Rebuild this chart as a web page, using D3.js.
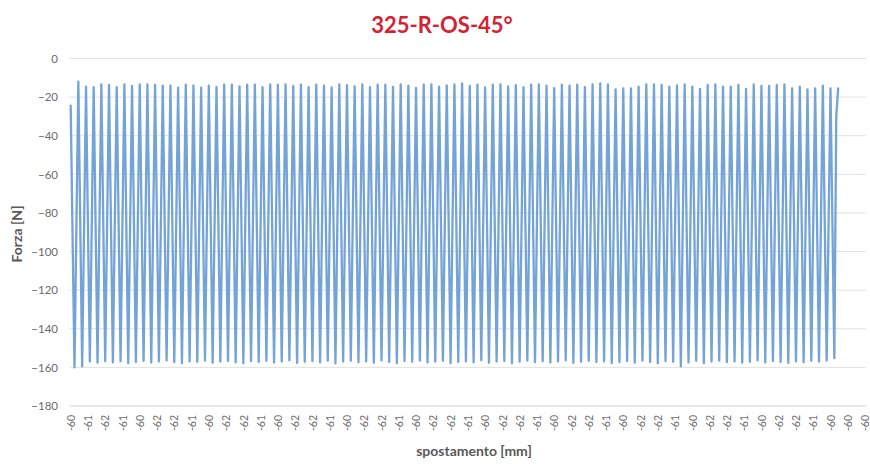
<!DOCTYPE html>
<html>
<head>
<meta charset="utf-8">
<script src="https://cdn.jsdelivr.net/npm/d3@7/dist/d3.min.js"></script>
<style>
  html, body { margin: 0; padding: 0; background: #ffffff; }
  svg { display: block; font-family: Lato, "Open Sans", "Liberation Sans", sans-serif; }
</style>
</head>
<body>
<svg id="chart" width="870" height="464"></svg>
<script>
// Cyclic test: force [N] against displacement [mm], one sample per category.
const chartTitle = "325-R-OS-45°";

// Number of categories on the displacement axis (recorded rows).
const categoryCount = 415;

// Displacement labels shown every 9th category.
const xLabels = [
  "-60","-61","-62","-61","-60","-62","-62","-61","-60","-62",
  "-62","-61","-60","-62","-62","-61","-60","-62","-62","-61",
  "-60","-62","-62","-61","-60","-62","-62","-61","-60","-62",
  "-62","-61","-60","-62","-62","-61","-60","-62","-62","-61",
  "-60","-62","-62","-61","-60","-60","-60"
];
const labelStep = 9;

// Force at the start of the record.
const startForce = -24;

// Force at each cycle's unloaded peak (every 4th sample, starting at sample 4).
const peakForce = [
  -12.0, -14.6, -14.9, -13.4, -13.7, -14.9, -13.4, -14.2, -13.4, -13.4,
  -13.7, -14.0, -14.0, -15.1, -13.5, -13.9, -15.1, -14.0, -14.7, -13.5,
  -13.5, -14.4, -13.5, -13.5, -14.9, -13.4, -13.5, -13.4, -14.2, -13.6,
  -14.8, -13.5, -14.1, -15.0, -13.4, -13.8, -14.5, -13.4, -14.9, -13.5,
  -13.6, -14.7, -13.4, -14.0, -15.2, -13.5, -13.4, -14.6, -13.9, -13.4,
  -12.9, -14.2, -13.5, -15.0, -13.6, -13.4, -14.4, -13.8, -14.9, -13.5,
  -13.4, -14.1, -15.3, -13.6, -14.0, -13.5, -14.8, -13.4, -12.9, -13.4,
  -16.0, -15.5, -15.5, -14.6, -13.4, -13.4, -13.7, -14.6, -13.9, -13.4,
  -14.6, -15.8, -13.7, -13.4, -14.6, -14.6, -13.7, -15.8, -13.4, -14.2,
  -14.2, -13.7, -13.4, -15.5, -14.6, -16.0, -15.5, -14.1, -15.5
];

// Force at each cycle's loaded trough (every 4th sample, starting at sample 2).
const troughForce = [
  -160.0, -159.5, -157.0, -157.6, -156.8, -157.4, -156.9, -157.8, -157.2, -156.6,
  -157.5, -157.0, -156.4, -157.3, -157.8, -156.9, -157.1, -156.5, -157.6, -157.0,
  -156.7, -157.4, -157.9, -156.8, -157.2, -156.6, -157.5, -157.0, -156.3, -157.7,
  -157.1, -156.8, -157.4, -156.5, -157.9, -157.0, -156.6, -157.3, -156.9, -157.6,
  -156.4, -157.2, -157.8, -156.7, -157.1, -156.5, -157.5, -157.0, -156.6, -157.8,
  -157.2, -156.9, -157.4, -156.3, -157.6, -157.0, -156.7, -157.9, -157.1, -156.5,
  -157.3, -156.8, -157.5, -157.0, -156.4, -157.7, -157.1, -156.6, -157.2, -156.9,
  -157.8, -157.3, -156.8, -157.6, -156.5, -157.2, -157.9, -156.7, -157.1, -159.5,
  -157.4, -156.6, -157.8, -157.0, -156.5, -157.3, -156.9, -157.6, -157.1, -156.4,
  -157.5, -156.8, -157.2, -157.7, -156.9, -157.3, -156.6, -157.0, -156.5, -155.2
];

// Last two samples of the record.
const endForce = [-30, -15];

// Force axis ticks.
const yTicks = [0, -20, -40, -60, -80, -100, -120, -140, -160, -180];

// Assemble the sampled series as [categoryIndex, force] pairs.
const series = [[0, startForce]];
troughForce.forEach((t, k) => {
  series.push([2 + 4 * k, t]);
  if (k < peakForce.length) series.push([4 + 4 * k, peakForce[k]]);
});
const lastTroughIdx = 2 + 4 * (troughForce.length - 1);
endForce.forEach((f, j) => series.push([lastTroughIdx + 1 + j, f]));
series.sort((a, b) => a[0] - b[0]);

const svg = d3.select("#chart");
const plot = { left: 69.7, right: 866, top: 58.5, bottom: 406 };

const x = d3.scaleLinear().domain([0, categoryCount]).range([plot.left, plot.right]);
const y = d3.scaleLinear().domain([-180, 0]).range([plot.bottom, plot.top]);

// Title
svg.append("text")
  .attr("x", 442).attr("y", 33)
  .attr("text-anchor", "middle")
  .attr("font-size", 22).attr("font-weight", 700)
  .attr("fill", "#d42233")
  .text(chartTitle);

// Horizontal gridlines
svg.append("g").selectAll("line")
  .data(yTicks)
  .join("line")
  .attr("x1", plot.left).attr("x2", plot.right)
  .attr("y1", d => y(d)).attr("y2", d => y(d))
  .attr("stroke", d => d === -180 ? "#d0d0d0" : "#e2e2e2")
  .attr("stroke-width", 1);

// Force axis labels
const yAxis = d3.axisLeft(y).tickValues(yTicks).tickSize(0).tickPadding(0)
  .tickFormat(d => d3.format("d")(d));
const gy = svg.append("g").attr("transform", `translate(58,0)`).call(yAxis);
gy.select(".domain").remove();
gy.selectAll("text").attr("font-size", 11.5).attr("fill", "#6b6b6b")
  .attr("font-family", "Lato, 'Open Sans', sans-serif");

// Displacement axis labels (rotated)
const xAxis = d3.axisBottom(x)
  .tickValues(xLabels.map((_, j) => j * labelStep + 0.5))
  .tickSize(0).tickPadding(0)
  .tickFormat((_, j) => xLabels[j]);
const gx = svg.append("g").attr("transform", `translate(0,${plot.bottom})`).call(xAxis);
gx.select(".domain").remove();
gx.selectAll("text")
  .attr("font-size", 10.5).attr("fill", "#6b6b6b")
  .attr("font-family", "Lato, 'Open Sans', sans-serif")
  .attr("text-anchor", "end")
  .attr("transform", "translate(0,9) rotate(-90)")
  .attr("x", 0).attr("y", 0).attr("dy", "0.35em");

// Force series
const line = d3.line().x(d => x(d[0] + 0.5)).y(d => y(d[1]));
svg.append("path")
  .datum(series)
  .attr("fill", "none")
  .attr("stroke", "#73a3d7")
  .attr("stroke-width", 2.3)
  .attr("stroke-linejoin", "round")
  .attr("d", line);

// Axis titles
svg.append("text")
  .attr("transform", `translate(22,234) rotate(-90)`)
  .attr("text-anchor", "middle")
  .attr("font-size", 14).attr("font-weight", 700)
  .attr("fill", "#595959")
  .text("Forza [N]");

svg.append("text")
  .attr("x", 474).attr("y", 456)
  .attr("text-anchor", "middle")
  .attr("font-size", 14).attr("font-weight", 700)
  .attr("fill", "#595959")
  .text("spostamento [mm]");
</script>
</body>
</html>
